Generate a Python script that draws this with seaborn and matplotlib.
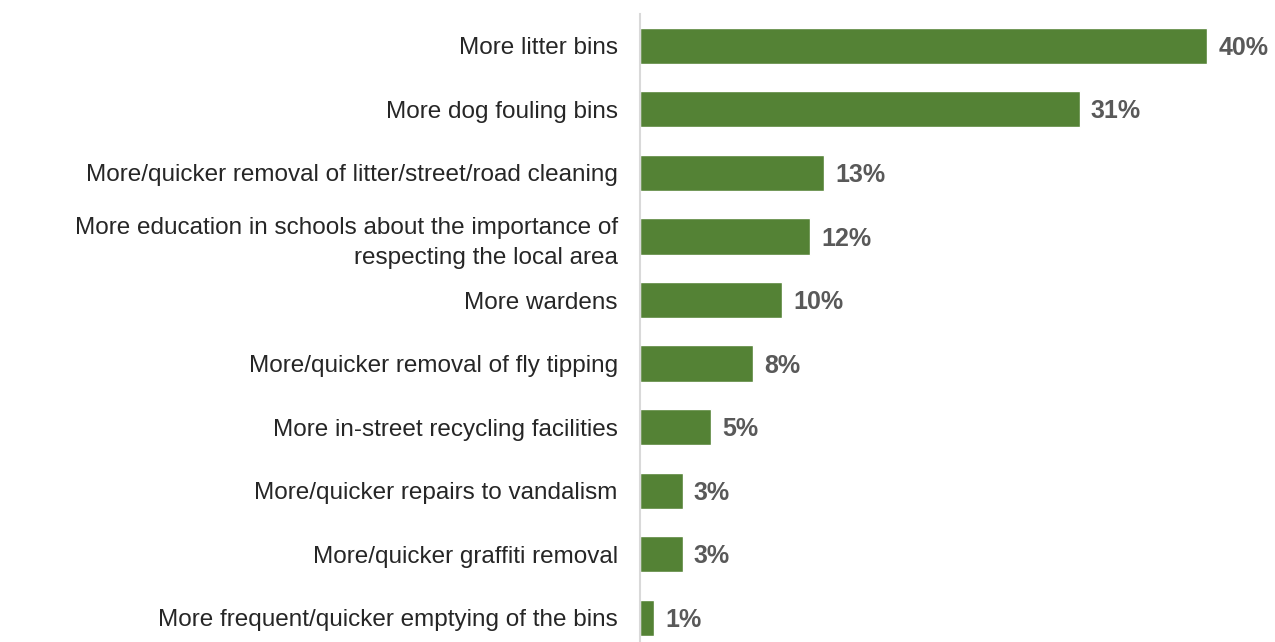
import matplotlib
matplotlib.use("Agg")
import matplotlib.pyplot as plt
import seaborn as sns
import pandas as pd

categories = [
    "More litter bins",
    "More dog fouling bins",
    "More/quicker removal of litter/street/road cleaning",
    "More education in schools about the importance of\nrespecting the local area",
    "More wardens",
    "More/quicker removal of fly tipping",
    "More in-street recycling facilities",
    "More/quicker repairs to vandalism",
    "More/quicker graffiti removal",
    "More frequent/quicker emptying of the bins",
]
values = [40, 31, 13, 12, 10, 8, 5, 3, 3, 1]
value_labels = ["40%", "31%", "13%", "12%", "10%", "8%", "5%", "3%", "3%", "1%"]
title = "What two or three changes do you feel would most\nimprove"

sns.set_theme(style="white")
plt.rcParams["font.family"] = ["Liberation Sans", "DejaVu Sans"]

df = pd.DataFrame({"category": categories, "value": values})

fig = plt.figure(figsize=(12.75, 6.42), dpi=100)

fig.text(18 / 1275, 1 - 4 / 642, title, ha="left", va="top", fontsize=33,
         color="white", linespacing=1.2, zorder=-5)

ax = fig.add_axes([640 / 1275, 0.0, 1 - 640 / 1275, 1 - 14 / 642])
ax.patch.set_alpha(0)

sns.barplot(data=df, x="value", y="category", order=categories, color="#548235",
            width=0.57, saturation=1, ax=ax)

ax.set_xlim(0, 44.78)
ax.set_ylim(9.38, -0.5)
ax.set_xlabel("")
ax.set_ylabel("")
ax.set_xticks([])
ax.tick_params(axis="y", length=0, pad=16, labelsize=17.5, labelcolor="#262626")
for lbl in ax.get_yticklabels():
    lbl.set_linespacing(1.45)

for s in ["top", "right", "bottom"]:
    ax.spines[s].set_visible(False)
ax.spines["left"].set_color("#d9d9d9")
ax.spines["left"].set_linewidth(1.5)

for i, (v, t) in enumerate(zip(values, value_labels)):
    ax.annotate(t, xy=(v, i), xytext=(8, -1.5), textcoords="offset points",
                va="center", ha="left", fontsize=18, fontweight="bold",
                color="#595959")

fig.savefig("out.png", dpi=100)
